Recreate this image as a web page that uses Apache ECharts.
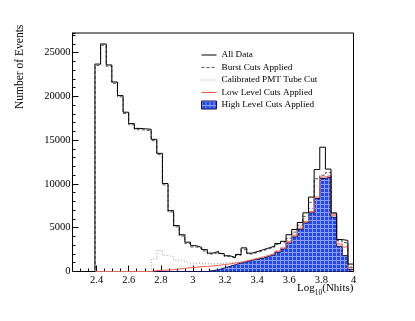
<!DOCTYPE html>
<html><head><meta charset="utf-8">
<script src="https://cdn.jsdelivr.net/npm/echarts@6/dist/echarts.min.js"></script>
<style>html,body{margin:0;padding:0;background:#fff}#c{width:415px;height:321px}</style>
</head><body><div id="c"></div>
<script>
// Histogram binning (log10 Nhits), 50 bins from 2.25 to 4.0
const binStart = 2.25;
const binWidth = 0.035;
const xMin = 2.25, xMax = 4.0;
const yMin = 0, yMax = 27250;
const xTickLabels = [2.4, 2.6, 2.8, 3.0, 3.2, 3.4, 3.6, 3.8, 4.0];
const yTickLabels = [0, 5000, 10000, 15000, 20000, 25000];
const seriesNames = ['All Data', 'Burst Cuts Applied', 'Calibrated PMT Tube Cut', 'Low Level Cuts Applied', 'High Level Cuts Applied'];

const allData = [0,0,0,0,23700,26000,23600,21650,20100,18200,16900,16350,16300,16250,15100,13500,10050,6950,5250,4200,3350,2950,2750,2500,2100,2300,2050,1800,1600,1950,2700,2100,2300,2500,2700,2900,3200,3450,4200,4800,5600,6700,8500,11650,14200,11700,6700,3650,3550,850];
const burstCuts = [0,0,0,0,23550,25850,23450,21500,19950,18050,16750,16200,16150,16100,14950,13350,9900,6800,5100,4050,3200,2800,2600,2350,2000,2150,1950,1700,1550,1850,2500,2000,2200,2400,2600,2800,3100,3350,3800,4500,5300,6300,7900,10600,11000,11300,6600,3550,3300,500];
const calibratedPMT = [0,0,0,0,0,0,0,0,0,0,0,0,0,0,1450,2400,1850,1650,1300,1120,960,940,920,900,880,900,950,1000,1050,1100,1250,1400,1550,1700,1900,2100,2400,2800,3550,4300,5100,6000,7200,9800,10900,11100,6550,3400,3200,500];
const lowLevelCuts = [0,0,0,0,0,0,0,0,0,0,0,0,0,0,100,130,170,210,290,360,440,480,550,590,630,700,780,860,970,1050,1200,1350,1500,1660,1850,2040,2310,2690,3400,4140,4940,5700,6850,8500,10780,10970,6430,3150,2800,400];
const highLevelCuts = [0,0,0,0,0,0,0,0,0,0,0,0,0,0,0,0,0,0,0,0,0,0,0,0,100,200,400,590,780,970,1125,1280,1430,1545,1735,1926,2193,2574,3261,3948,4786,5550,6694,8334,10622,10813,6198,2880,1812,210];

function stepData(vals) {
  const d = [];
  for (let i = 0; i < vals.length; i++) d.push([+(binStart + i * binWidth).toFixed(4), vals[i]]);
  d.push([xMax, vals[vals.length - 1]]);
  d.push([xMax, 0]);
  return d;
}

// hatch pattern for filled histogram
const pc = document.createElement('canvas');
pc.width = 4; pc.height = 4;
const g = pc.getContext('2d');
g.fillStyle = '#2246f0'; g.fillRect(0, 0, 4, 4);
g.fillStyle = '#8a9eff'; g.fillRect(0, 0, 4, 1); g.fillRect(0, 0, 1, 4);
const hatch = { image: pc, repeat: 'repeat' };

const serif = '"Liberation Serif", "DejaVu Serif", serif';
const chart = echarts.init(document.getElementById('c'), null, { renderer: 'canvas' });

const fmt = v => String(+(+v).toFixed(2));
const noSym = { opacity: 0 };

chart.setOption({
  animation: false,
  backgroundColor: '#fff',
  grid: { left: 72.5, top: 33, right: 61.5, bottom: 49.5, show: true, borderColor: '#000', borderWidth: 1, backgroundColor: 'transparent' },
  legend: {
    orient: 'vertical', left: 201, top: 50.5, padding: 0, itemWidth: 15, itemHeight: 8, itemGap: 3.5,
    selectedMode: false,
    lineStyle: { width: 1 },
    textStyle: { fontFamily: serif, fontSize: 9.2, lineHeight: 9, color: '#000' },
    data: [
      { name: seriesNames[0], itemStyle: noSym },
      { name: seriesNames[1], itemStyle: noSym },
      { name: seriesNames[2], itemStyle: noSym },
      { name: seriesNames[3], itemStyle: noSym },
      { name: seriesNames[4], icon: 'rect', itemStyle: { color: hatch, borderColor: '#10105a', borderWidth: 1, opacity: 1 } }
    ]
  },
  xAxis: [
    { type: 'value', min: xMin, max: xMax, position: 'bottom',
      axisLine: { show: true, lineStyle: { color: '#000', width: 1 } },
      axisTick: { show: true, inside: true, length: 6, customValues: xTickLabels, lineStyle: { color: '#000' } },
      axisLabel: { customValues: xTickLabels, formatter: fmt, fontFamily: serif, fontSize: 10.5, color: '#000', margin: 3 },
      splitLine: { show: false } },
    { type: 'value', min: xMin, max: xMax, interval: 0.05, position: 'bottom',
      axisLine: { show: false }, axisLabel: { show: false },
      axisTick: { show: true, inside: true, length: 3, lineStyle: { color: '#000' } },
      splitLine: { show: false } }
  ],
  yAxis: [
    { type: 'value', min: yMin, max: yMax, position: 'left',
      axisLine: { show: true, lineStyle: { color: '#000', width: 1 } },
      axisTick: { show: true, inside: true, length: 6, customValues: yTickLabels, lineStyle: { color: '#000' } },
      axisLabel: { customValues: yTickLabels, formatter: v => String(v), fontFamily: serif, fontSize: 10.5, color: '#000', margin: 2 },
      splitLine: { show: false } },
    { type: 'value', min: yMin, max: yMax, interval: 1000, position: 'left',
      axisLine: { show: false }, axisLabel: { show: false },
      axisTick: { show: true, inside: true, length: 3, lineStyle: { color: '#000' } },
      splitLine: { show: false } }
  ],
  graphic: [
    { type: 'text', x: 20, y: 109, rotation: Math.PI / 2,
      style: { text: 'Number of Events', font: '11.5px ' + serif, fill: '#000', textVerticalAlign: 'middle' } },
    { type: 'text', left: 297, top: 283,
      style: { text: '{n|Log}{s|10}{n|(Nhits)}', rich: {
        n: { fontFamily: serif, fontSize: 11, lineHeight: 14, verticalAlign: 'top', fill: '#000' },
        s: { fontFamily: serif, fontSize: 7.5, lineHeight: 8, verticalAlign: 'bottom', fill: '#000' } } } }
  ],
  series: [
    { name: seriesNames[0], type: 'line', step: 'end', symbol: 'none', z: 6, data: stepData(allData),
      lineStyle: { color: '#000', width: 1 }, itemStyle: { color: '#000' } },
    { name: seriesNames[1], type: 'line', step: 'end', symbol: 'none', z: 5, data: stepData(burstCuts),
      lineStyle: { color: '#555', width: 1, type: [3, 2] }, itemStyle: { color: '#555' } },
    { name: seriesNames[2], type: 'line', step: 'end', symbol: 'none', z: 4, data: stepData(calibratedPMT),
      lineStyle: { color: '#999', width: 1, type: [1, 2] }, itemStyle: { color: '#999' } },
    { name: seriesNames[3], type: 'line', step: 'end', symbol: 'none', z: 3, data: stepData(lowLevelCuts),
      lineStyle: { color: '#f25a45', width: 1 }, itemStyle: { color: '#f25a45' } },
    { name: seriesNames[4], type: 'line', step: 'end', symbol: 'none', z: 2, data: stepData(highLevelCuts),
      lineStyle: { color: '#10105a', width: 1 }, itemStyle: { color: '#2246f0' },
      areaStyle: { color: hatch, opacity: 1 } }
  ]
});
</script></body></html>
